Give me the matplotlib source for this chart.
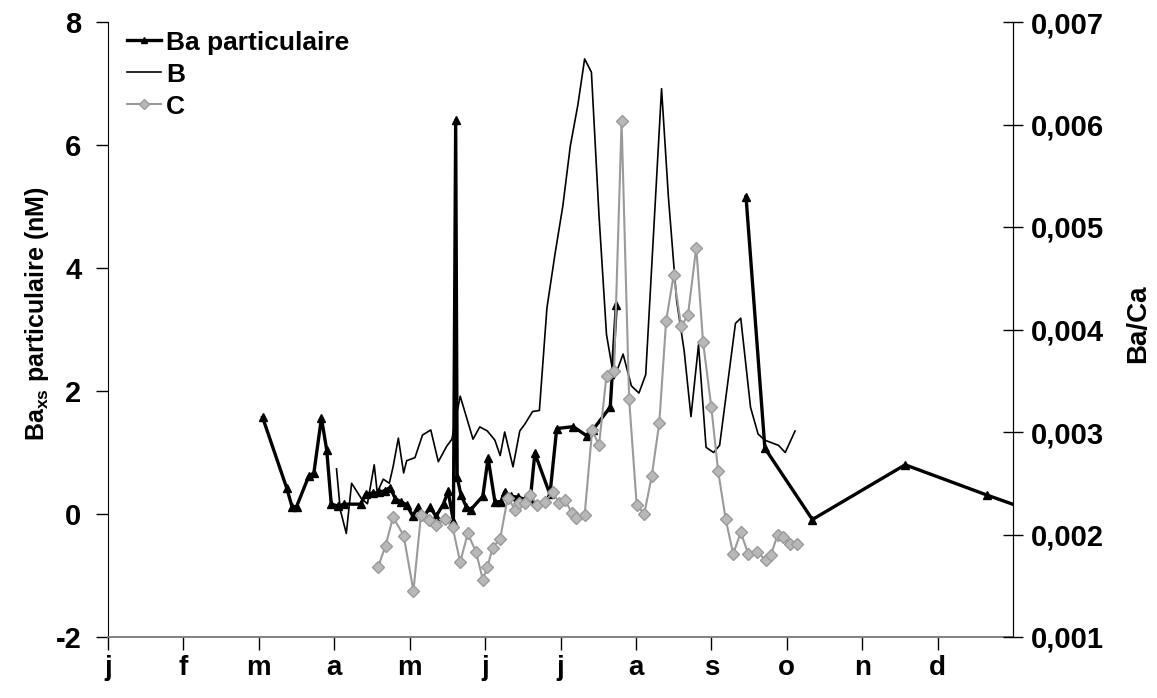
import numpy as np
import matplotlib
matplotlib.use('Agg')
import matplotlib.pyplot as plt
from matplotlib.lines import Line2D

plt.rcParams['font.family'] = ['Liberation Sans', 'DejaVu Sans']
plt.rcParams['font.weight'] = 'bold'
plt.rcParams['mathtext.fontset'] = 'custom'
plt.rcParams['mathtext.rm'] = 'Liberation Sans:bold'
plt.rcParams['mathtext.bf'] = 'Liberation Sans:bold'

# months (0 = 1 Jan, 12 = 31 Dec)
month_labels = ['j', 'f', 'm', 'a', 'm', 'j', 'j', 'a', 's', 'o', 'n', 'd']

# Ba particulaire (nM), left axis
ba_x = [2.05, 2.37, 2.44, 2.50, 2.66, 2.73, 2.83, 2.90, 2.96, 3.05, 3.13, 3.35,
        3.42, 3.51, 3.59, 3.67, 3.74, 3.81, 3.88, 3.96, 4.04, 4.11, 4.19, 4.27,
        4.35, 4.45, 4.51, 4.58, 4.61, 4.63, 4.68, 4.75, 4.81, 4.97, 5.04, 5.13,
        5.21, 5.26, 5.35, 5.44, 5.53, 5.60, 5.66, 5.86, 5.95, 6.17, 6.35, 6.43,
        6.66, 6.74, 7.60, 8.46, 8.71, 9.34, 10.57, 11.65, 12.5]
ba_y = [1.57, 0.42, 0.12, 0.12, 0.61, 0.67, 1.56, 1.04, 0.16, 0.13, 0.16, 0.16,
        0.33, 0.34, 0.35, 0.38, 0.43, 0.25, 0.20, 0.15, -0.03, 0.11, -0.04, 0.11,
        -0.04, 0.17, 0.37, -0.12, 6.40, 0.60, 0.31, 0.12, 0.07, 0.29, 0.91, 0.20,
        0.20, 0.36, 0.29, 0.27, 0.24, 0.24, 0.99, 0.32, 1.39, 1.42, 1.27, 1.37,
        1.74, 3.40, np.nan, 5.16, 1.07, -0.09, 0.80, 0.31, -0.06]

# B (Ba/Ca), right axis
b_x = [3.03, 3.08, 3.16, 3.23, 3.36, 3.44, 3.53, 3.57, 3.65, 3.73, 3.78, 3.85,
       3.92, 3.96, 4.07, 4.17, 4.28, 4.38, 4.49, 4.56, 4.67, 4.84, 4.93, 5.03,
       5.13, 5.20, 5.26, 5.37, 5.46, 5.53, 5.63, 5.72, 5.82, 5.93, 6.03, 6.13,
       6.23, 6.32, 6.41, 6.51, 6.61, 6.71, 6.83, 6.94, 7.04, 7.13, 7.34, 7.43,
       7.54, 7.64, 7.73, 7.83, 7.93, 8.03, 8.11, 8.32, 8.39, 8.52, 8.62, 8.71,
       8.89, 8.98, 9.11]
b_y = [0.00264, 0.00224, 0.00201, 0.00250, 0.00235, 0.00230, 0.00268, 0.00241,
       0.00254, 0.00250, 0.00266, 0.00294, 0.00260, 0.00272, 0.00275, 0.00297,
       0.00302, 0.00271, 0.00286, 0.00293, 0.00335, 0.00293, 0.00305, 0.00301,
       0.00292, 0.00277, 0.00300, 0.00266, 0.00301, 0.00308, 0.00320, 0.00321,
       0.00421, 0.00475, 0.00520, 0.00579, 0.00619, 0.00664, 0.00651, 0.00512,
       0.00395, 0.00352, 0.00376, 0.00345, 0.00338, 0.00356, 0.00635, 0.00530,
       0.00428, 0.00379, 0.00315, 0.00385, 0.00285, 0.00280, 0.00287, 0.00406,
       0.00411, 0.00324, 0.00298, 0.00292, 0.00287, 0.00280, 0.00301]

# C (Ba/Ca), right axis
c_x = [3.58, 3.68, 3.78, 3.92, 4.05, 4.15, 4.25, 4.35, 4.47, 4.57, 4.67, 4.77,
       4.88, 4.97, 5.03, 5.10, 5.20, 5.30, 5.40, 5.45, 5.53, 5.60, 5.69, 5.79,
       5.90, 5.98, 6.06, 6.15, 6.21, 6.32, 6.42, 6.51, 6.61, 6.71, 6.81, 6.91,
       7.01, 7.11, 7.21, 7.31, 7.40, 7.50, 7.60, 7.69, 7.80, 7.89, 8.00, 8.09,
       8.19, 8.29, 8.39, 8.49, 8.61, 8.72, 8.79, 8.88, 8.95, 9.04, 9.14]
c_y = [0.00168, 0.00189, 0.00217, 0.00199, 0.00145, 0.00219, 0.00214, 0.00209,
       0.00215, 0.00207, 0.00173, 0.00201, 0.00183, 0.00156, 0.00168, 0.00187,
       0.00196, 0.00236, 0.00224, 0.00231, 0.00231, 0.00239, 0.00229, 0.00232,
       0.00241, 0.00231, 0.00234, 0.00221, 0.00216, 0.00219, 0.00302, 0.00287,
       0.00355, 0.00360, 0.00603, 0.00332, 0.00229, 0.00220, 0.00257, 0.00309,
       0.00408, 0.00453, 0.00403, 0.00414, 0.00480, 0.00388, 0.00324, 0.00262,
       0.00215, 0.00181, 0.00202, 0.00181, 0.00183, 0.00175, 0.00180, 0.00200,
       0.00198, 0.00191, 0.00191]

fig = plt.figure(figsize=(11.57, 6.98), dpi=100)
ax = fig.add_axes([108/1157, 61/698, 905/1157, 615/698])
ax2 = ax.twinx()

ax.plot(ba_x, ba_y, color='black', lw=2.4, marker='^', ms=6, zorder=3)
ax2.plot(b_x, b_y, color='black', lw=1.2)
ax2.plot(c_x, c_y, color='#9a9a9a', lw=1.5, marker='D', ms=6,
         markerfacecolor='#b8b8b8', markeredgecolor='#9a9a9a')

ax.set_xlim(0, 12)
ax.set_ylim(-2, 8)
ax2.set_ylim(0.001, 0.007)

ax.set_xticks(range(12))
ax.set_xticklabels(month_labels, fontsize=20, fontweight='bold')
ax.tick_params(axis='x', direction='out', length=9, width=1, pad=4)
ax.set_yticks([-2, 0, 2, 4, 6, 8])
ax.set_yticklabels(['-2', '0', '2', '4', '6', '8'], fontsize=21, fontweight='bold')
ax.tick_params(axis='y', direction='out', length=9, width=1, pad=10)

r_ticks = [0.001, 0.002, 0.003, 0.004, 0.005, 0.006, 0.007]
ax2.set_yticks(r_ticks)
ax2.set_yticklabels([('%.3f' % t).replace('.', ',') for t in r_ticks],
                    fontsize=21, fontweight='bold')
ax2.tick_params(axis='y', direction='inout', length=14, width=1, pad=6)

for a in (ax, ax2):
    a.spines['top'].set_visible(False)
ax.spines['bottom'].set_color('#777777')
ax.spines['bottom'].set_linewidth(1.3)
ax2.spines['bottom'].set_visible(False)
ax2.spines['left'].set_visible(False)

ax.set_ylabel(r'Ba$_{\mathbf{xs}}$ particulaire (nM)', fontsize=18,
              fontweight='bold')
ax.yaxis.set_label_coords(-0.063, 0.525)
ax2.set_ylabel('Ba/Ca', fontsize=20, fontweight='bold')
ax2.yaxis.set_label_coords(1.124, 0.51)

handles = [
    Line2D([], [], color='black', lw=2.4, marker='^', ms=5),
    Line2D([], [], color='black', lw=1.2),
    Line2D([], [], color='#9a9a9a', lw=1.5, marker='D', ms=5,
           markerfacecolor='#b8b8b8', markeredgecolor='#9a9a9a'),
]
ax2.legend(handles, ['Ba particulaire', 'B', 'C'], loc='upper left',
           bbox_to_anchor=(0.009, 1.003), frameon=False,
           handlelength=1.3, handletextpad=0.2, labelspacing=0.3,
           borderaxespad=0.0, prop={'weight': 'bold', 'size': 19})

fig.savefig('out.png', dpi=100, facecolor='white')
